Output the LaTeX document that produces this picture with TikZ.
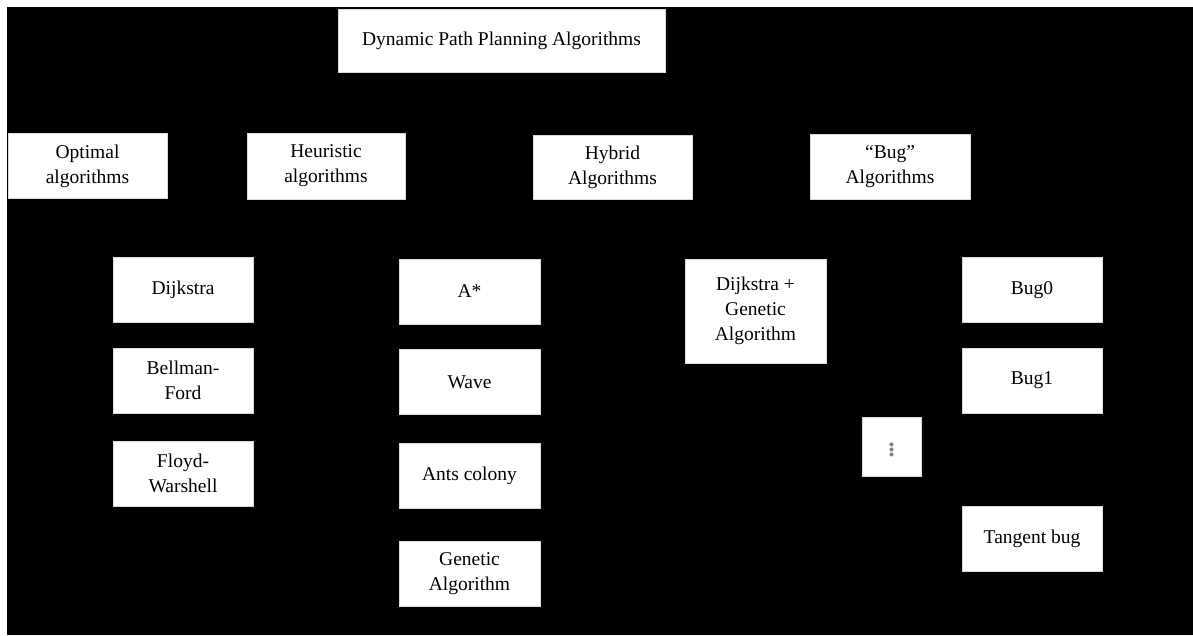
\documentclass[tikz,border=0pt]{standalone}
\usepackage{fontspec}
\setmainfont{Liberation Serif}
\begin{document}
\begin{tikzpicture}[x=1pt, y=-1pt,
  box/.style={fill=white, draw=white!85!black, line width=0.6pt, align=center, inner sep=0pt,
    font=\fontsize{19.5}{25}\selectfont},
  leafbox/.style={box, minimum width=140, minimum height=65}]
\useasboundingbox (0,0) rectangle (1193,635);
% background
\fill[white] (0,0) rectangle (1193,635);
\fill[black] (7,7) rectangle (1193,635);

% root
\node[box, minimum width=327, minimum height=63] (root) at (501.5,40.5) {Dynamic Path Planning Algorithms};

% families
\node[box, minimum width=159, minimum height=65] (optimal) at (87.5,166) {Optimal\\algorithms};
\node[box, minimum width=158, minimum height=66] (heuristic) at (326,166) {Heuristic\\algorithms};
\node[box, minimum width=159, minimum height=64] (hybrid) at (612.5,167) {Hybrid\\Algorithms};
\node[box, minimum width=160, minimum height=65] (bugalg) at (890,166.5) {``Bug''\\Algorithms};

% optimal algorithms
\node[leafbox] (dijkstra) at (183,290) {Dijkstra};
\node[leafbox] (bellman) at (183,380.5) {Bellman-\\Ford};
\node[leafbox] (floyd) at (183,473.5) {Floyd-\\Warshell};

% heuristic algorithms
\node[leafbox, minimum width=141] (astar) at (469.5,291.5) {A*};
\node[leafbox, minimum width=141] (wave) at (469.5,382) {Wave};
\node[leafbox, minimum width=141] (ants) at (469.5,475.5) {Ants colony};
\node[leafbox, minimum width=141] (genetic) at (469.5,573.5) {Genetic\\Algorithm};

% hybrid algorithms
\node[leafbox, minimum width=141, minimum height=104] (dijga) at (755.5,311) {Dijkstra +\\Genetic\\Algorithm};

% bug algorithms
\node[leafbox] (bugzero) at (1032,290) {Bug0};
\node[leafbox] (bugone) at (1032,380.5) {Bug1};
\node[box, minimum width=59, minimum height=59, text=black!50, font=\fontsize{34}{40}\selectfont] (dots) at (891.5,446.5) {$\vdots$};
\node[leafbox] (tangent) at (1032,538.5) {Tangent bug};
\end{tikzpicture}
\end{document}
